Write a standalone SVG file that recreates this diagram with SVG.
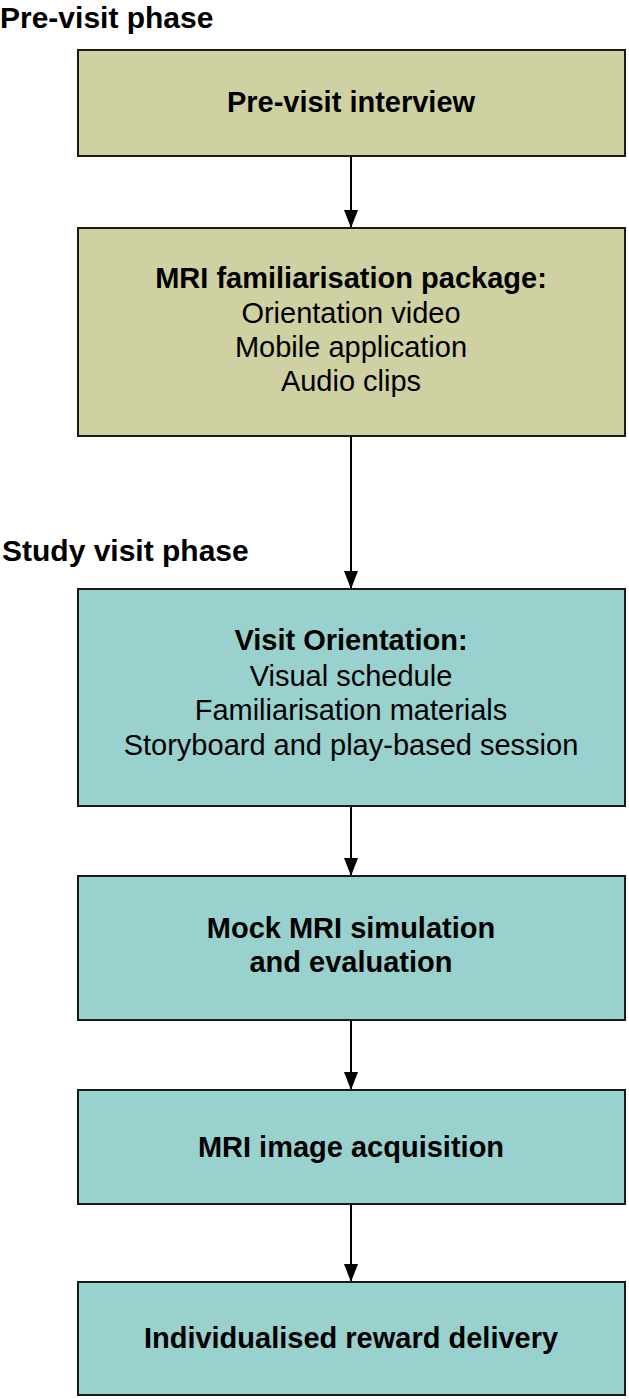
<svg xmlns="http://www.w3.org/2000/svg" width="629" height="1399" viewBox="0 0 629 1399">
<style>
.box{stroke:#1a1a1a;stroke-width:2}
.pre{fill:#cfd1a2}
.vis{fill:#98d1ce}
text{font-family:"Liberation Sans",Arial,sans-serif;fill:#000;font-size:29px}
.t{text-anchor:middle}
.b{font-weight:bold}
.h{font-size:30px}
.conn{stroke:#000;stroke-width:2;fill:none;marker-end:url(#ah)}
</style>
<defs>
<marker id="ah" viewBox="0 0 10 10" refX="10" refY="5" markerWidth="18" markerHeight="14" markerUnits="userSpaceOnUse" orient="auto" preserveAspectRatio="none">
<path d="M0,0 L10,5 L0,10 z" fill="#000"/>
</marker>
</defs>
<text class="b h" x="0" y="28">Pre-visit phase</text>
<text class="b h" x="2" y="561">Study visit phase</text>
<g id="connectors">
<line class="conn" x1="351" y1="157" x2="351" y2="228"/>
<line class="conn" x1="351" y1="437" x2="351" y2="589"/>
<line class="conn" x1="351" y1="807" x2="351" y2="876"/>
<line class="conn" x1="351" y1="1021" x2="351" y2="1090"/>
<line class="conn" x1="351" y1="1205" x2="351" y2="1282"/>
</g>
<g id="n1">
<rect class="box pre" x="78" y="50" width="547" height="106"/>
<text class="t b" x="351" y="112">Pre-visit interview</text>
</g>
<g id="n2">
<rect class="box pre" x="78" y="228" width="547" height="208"/>
<text class="t b" x="351" y="288">MRI familiarisation package:</text>
<text class="t" x="351" y="323">Orientation video</text>
<text class="t" x="351" y="357">Mobile application</text>
<text class="t" x="351" y="391">Audio clips</text>
</g>
<g id="n3">
<rect class="box vis" x="78" y="589" width="547" height="217"/>
<text class="t b" x="351" y="650">Visit Orientation:</text>
<text class="t" x="351" y="686">Visual schedule</text>
<text class="t" x="351" y="720">Familiarisation materials</text>
<text class="t" x="351" y="755">Storyboard and play-based session</text>
</g>
<g id="n4">
<rect class="box vis" x="78" y="876" width="547" height="144"/>
<text class="t b" x="351" y="938">Mock MRI simulation</text>
<text class="t b" x="351" y="972">and evaluation</text>
</g>
<g id="n5">
<rect class="box vis" x="78" y="1090" width="547" height="114"/>
<text class="t b" x="351" y="1157">MRI image acquisition</text>
</g>
<g id="n6">
<rect class="box vis" x="78" y="1282" width="547" height="113"/>
<text class="t b" x="351" y="1348">Individualised reward delivery</text>
</g>
</svg>
